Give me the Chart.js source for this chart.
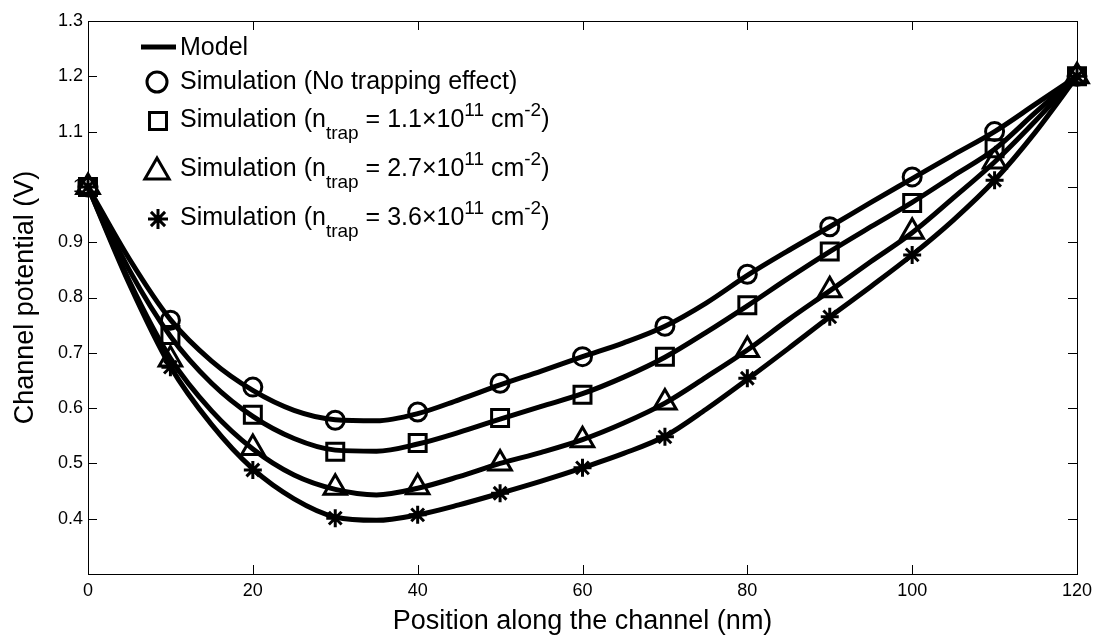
<!DOCTYPE html>
<html>
<head>
<meta charset="utf-8">
<title>Channel potential</title>
<script src="https://cdn.jsdelivr.net/npm/chart.js@4.4.1/dist/chart.umd.min.js"></script>
<style>
    html, body { margin: 0; padding: 0; background: #fff; }
    #wrap { width: 1100px; height: 640px; position: relative; }
</style>
</head>
<body>
<div id="wrap"><canvas id="potentialChart"></canvas></div>
<script>
// simulation points (nm / V)
const simX = [0, 10, 20, 30, 40, 50, 60, 70, 80, 90, 100, 110, 120];
const simNoTrap = [1.0, 0.759, 0.638, 0.578, 0.593, 0.645, 0.693, 0.748, 0.842, 0.928, 1.018, 1.100, 1.2];
const simTrap11 = [1.0, 0.732, 0.588, 0.521, 0.537, 0.582, 0.624, 0.693, 0.786, 0.883, 0.971, 1.070, 1.2];
const simTrap27 = [1.0, 0.688, 0.528, 0.456, 0.457, 0.500, 0.542, 0.610, 0.705, 0.813, 0.919, 1.046, 1.2];
const simTrap36 = [1.0, 0.674, 0.488, 0.401, 0.407, 0.446, 0.492, 0.548, 0.654, 0.765, 0.877, 1.012, 1.2];

// model curves, read every 5 nm
const modelX = [0, 5, 10, 15, 20, 25, 30, 35, 40, 45, 50, 55, 60, 65, 70, 75, 80, 85, 90, 95, 100, 105, 110, 115, 120];
const modelNoTrap = [1.0, 0.87, 0.76, 0.685, 0.632, 0.596, 0.579, 0.577, 0.590, 0.615, 0.642, 0.667, 0.693, 0.718, 0.748, 0.790, 0.840, 0.885, 0.928, 0.972, 1.015, 1.058, 1.100, 1.150, 1.2];
const modelTrap11 = [1.0, 0.85, 0.73, 0.645, 0.585, 0.545, 0.524, 0.522, 0.535, 0.556, 0.580, 0.603, 0.626, 0.656, 0.692, 0.737, 0.785, 0.835, 0.883, 0.928, 0.972, 1.020, 1.068, 1.135, 1.2];
const modelTrap27 = [1.0, 0.83, 0.69, 0.595, 0.526, 0.479, 0.453, 0.443, 0.455, 0.476, 0.500, 0.520, 0.543, 0.573, 0.609, 0.656, 0.705, 0.760, 0.812, 0.865, 0.917, 0.980, 1.045, 1.120, 1.2];
const modelTrap36 = [1.0, 0.825, 0.675, 0.570, 0.490, 0.436, 0.403, 0.397, 0.407, 0.425, 0.446, 0.468, 0.492, 0.518, 0.549, 0.598, 0.652, 0.708, 0.765, 0.820, 0.877, 0.940, 1.012, 1.100, 1.2];

const xTickValues = [0, 20, 40, 60, 80, 100, 120];
const yTickValues = [0.4, 0.5, 0.6, 0.7, 0.8, 0.9, 1.0, 1.1, 1.2, 1.3];

const legendLabels = [
    [{ t: 'Model' }],
    [{ t: 'Simulation (No trapping effect)' }],
    [{ t: 'Simulation (n' }, { t: 'trap', sub: true }, { t: ' = 1.1×10' }, { t: '11', sup: true }, { t: ' cm' }, { t: '-2', sup: true }, { t: ')' }],
    [{ t: 'Simulation (n' }, { t: 'trap', sub: true }, { t: ' = 2.7×10' }, { t: '11', sup: true }, { t: ' cm' }, { t: '-2', sup: true }, { t: ')' }],
    [{ t: 'Simulation (n' }, { t: 'trap', sub: true }, { t: ' = 3.6×10' }, { t: '11', sup: true }, { t: ' cm' }, { t: '-2', sup: true }, { t: ')' }]
];

const FONT = 'Arial, "Liberation Sans", Helvetica, sans-serif';

function toPoints(xs, ys) {
    return xs.map((x, i) => ({ x: x, y: ys[i] }));
}

function modelSet(ys) {
    return {
        type: 'line',
        data: toPoints(modelX, ys),
        borderColor: '#000',
        borderWidth: 5,
        pointRadius: 0,
        cubicInterpolationMode: 'monotone',
        fill: false,
        clip: false
    };
}

function simSet(ys, style, radius) {
    return {
        type: 'line',
        data: toPoints(simX, ys),
        showLine: false,
        pointStyle: style,
        pointRadius: radius,
        pointBorderWidth: 3,
        pointBorderColor: '#000',
        pointBackgroundColor: 'rgba(0,0,0,0)',
        clip: false
    };
}

// box, inward tick marks and the legend drawn like the original figure
const framePlugin = {
    id: 'frame',
    beforeDatasetsDraw(chart) {
        const { ctx, chartArea: a, scales } = chart;
        ctx.save();
        ctx.strokeStyle = '#000';
        ctx.lineWidth = 1;
        ctx.strokeRect(a.left + 0.5, a.top + 0.5, a.right - a.left, a.bottom - a.top);
        ctx.beginPath();
        const len = 9;
        xTickValues.forEach(v => {
            const px = Math.round(scales.x.getPixelForValue(v)) + 0.5;
            ctx.moveTo(px, a.bottom); ctx.lineTo(px, a.bottom - len);
            ctx.moveTo(px, a.top); ctx.lineTo(px, a.top + len);
        });
        yTickValues.forEach(v => {
            const py = Math.round(scales.y.getPixelForValue(v)) + 0.5;
            ctx.moveTo(a.left, py); ctx.lineTo(a.left + len, py);
            ctx.moveTo(a.right, py); ctx.lineTo(a.right - len, py);
        });
        ctx.stroke();
        ctx.restore();
    },
    afterDraw(chart) {
        const ctx = chart.ctx;
        ctx.save();
        ctx.fillStyle = '#000';
        ctx.strokeStyle = '#000';

        // model entry
        ctx.lineWidth = 5;
        ctx.beginPath();
        ctx.moveTo(141, 47);
        ctx.lineTo(176, 47);
        ctx.stroke();

        const markers = [null,
            { style: 'circle', r: 10, x: 157, y: 82 },
            { style: 'rect', r: 12, x: 158, y: 121 },
            { style: 'triangle', r: 14, x: 157, y: 172 },
            { style: 'star', r: 10, x: 158, y: 219 }];
        const rowsY = [48, 82, 120, 169, 218];

        markers.forEach(m => {
            if (!m) return;
            ctx.lineWidth = 3;
            ctx.strokeStyle = '#000';
            ctx.fillStyle = 'rgba(0,0,0,0)';
            Chart.helpers.drawPoint(ctx, { pointStyle: m.style, radius: m.r, borderWidth: 3 }, m.x, m.y);
        });

        ctx.fillStyle = '#000';
        ctx.textBaseline = 'middle';
        ctx.textAlign = 'left';
        legendLabels.forEach((parts, i) => {
            let x = 180;
            parts.forEach(p => {
                let y = rowsY[i];
                if (p.sub) {
                    ctx.font = '19px ' + FONT;
                    y += 14;
                } else if (p.sup) {
                    ctx.font = '19px ' + FONT;
                    y -= 9;
                } else {
                    ctx.font = '25px ' + FONT;
                }
                ctx.fillText(p.t, x, y);
                x += ctx.measureText(p.t).width;
            });
        });
        ctx.restore();
    }
};

const ctx = document.getElementById('potentialChart').getContext('2d');
new Chart(ctx, {
    data: {
        datasets: [
            modelSet(modelNoTrap),
            modelSet(modelTrap11),
            modelSet(modelTrap27),
            modelSet(modelTrap36),
            simSet(simNoTrap, 'circle', 9),
            simSet(simTrap11, 'rect', 12),
            simSet(simTrap27, 'triangle', 13),
            simSet(simTrap36, 'star', 9)
        ]
    },
    options: {
        responsive: true,
        maintainAspectRatio: false,
        animation: false,
        events: [],
        layout: { padding: { top: 21, right: 23, left: 0, bottom: 0 } },
        plugins: {
            legend: { display: false },
            tooltip: { enabled: false }
        },
        scales: {
            x: {
                type: 'linear',
                min: 0,
                max: 120,
                afterBuildTicks: scale => { scale.ticks = xTickValues.map(v => ({ value: v })); },
                afterFit: scale => { scale.height = 66; },
                grid: { display: false, drawTicks: false },
                border: { display: false },
                ticks: {
                    color: '#000',
                    padding: 6,
                    maxRotation: 0,
                    font: { family: FONT, size: 18 }
                },
                title: {
                    display: true,
                    text: 'Position along the channel (nm)',
                    color: '#000',
                    font: { family: FONT, size: 27 },
                    padding: { top: 0, bottom: 2 }
                }
            },
            y: {
                type: 'linear',
                min: 0.3,
                max: 1.3,
                afterBuildTicks: scale => { scale.ticks = yTickValues.map(v => ({ value: v })); },
                afterFit: scale => { scale.width = 88; },
                grid: { display: false, drawTicks: false },
                border: { display: false },
                ticks: {
                    color: '#000',
                    padding: 5,
                    font: { family: FONT, size: 18 },
                    callback: v => String(Number(v.toFixed(1)))
                },
                title: {
                    display: true,
                    text: 'Channel potential (V)',
                    color: '#000',
                    font: { family: FONT, size: 27 },
                    padding: { top: 9, bottom: 0 }
                }
            }
        }
    },
    plugins: [framePlugin]
});
</script>
</body>
</html>
